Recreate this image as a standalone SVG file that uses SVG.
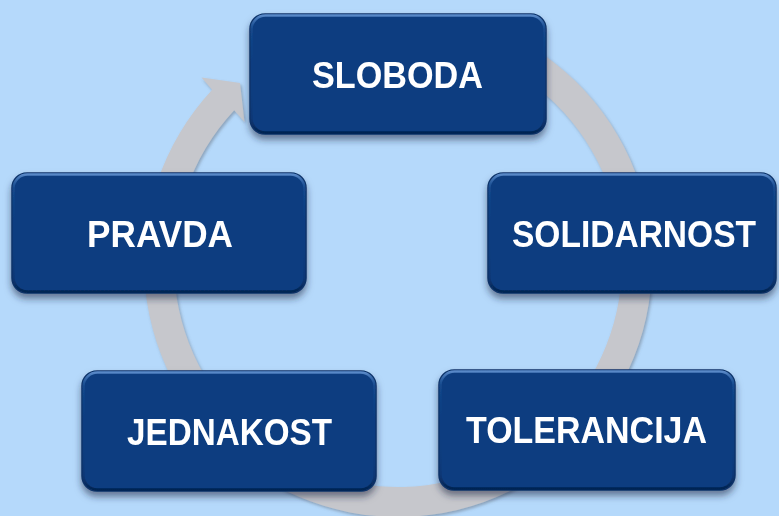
<svg xmlns="http://www.w3.org/2000/svg" width="779" height="516" viewBox="0 0 779 516">
  <style>
    .box { fill: #0A3D80; stroke: #0B3369; stroke-width: 1.5; }
    .bevel { fill: none; stroke: url(#bevelGrad); stroke-width: 2.5; }
    .label { font-family: "Liberation Sans", Arial, sans-serif; font-weight: bold; font-size: 36px; fill: #FFFFFF; text-anchor: middle; }
    .ring { fill: #C6C7CC; }
  </style>
  <defs>
    <linearGradient id="bevelGrad" x1="0" y1="0" x2="0" y2="1">
      <stop offset="0" stop-color="#5C8CCB" stop-opacity="0.95"/>
      <stop offset="0.12" stop-color="#2F63A8" stop-opacity="0.3"/>
      <stop offset="0.5" stop-color="#0A3D80" stop-opacity="0"/>
      <stop offset="0.88" stop-color="#062A5C" stop-opacity="0.3"/>
      <stop offset="1" stop-color="#04224D" stop-opacity="0.9"/>
    </linearGradient>
    <filter id="boxShadow" x="-10%" y="-10%" width="120%" height="130%">
      <feDropShadow dx="0" dy="5" stdDeviation="3.5" flood-color="#1E2C42" flood-opacity="0.55"/>
    </filter>
    <filter id="ringShadow" x="-10%" y="-10%" width="120%" height="120%">
      <feDropShadow dx="1.5" dy="2" stdDeviation="1.5" flood-color="#5A6070" flood-opacity="0.45"/>
    </filter>
  </defs>

  <rect x="0" y="0" width="779" height="516" fill="#B5D9FB"/>

  <g id="connectors">
    <path class="ring" filter="url(#ringShadow)" d="M 484.9 24.3 A 254 254 0 1 1 212.2 89.8 L 201.5 77.5 L 240 83 L 244.5 122 L 234.2 110.2 A 224 224 0 1 0 474.6 52.5 Z"/>
  </g>

  <g id="node-sloboda" filter="url(#boxShadow)">
    <rect class="box" x="250" y="14" width="296" height="120" rx="15" ry="15"/>
    <rect class="bevel" x="251.5" y="15.5" width="293" height="117" rx="14" ry="14"/>
    <text class="label" x="397.5" y="88" textLength="171" lengthAdjust="spacingAndGlyphs">SLOBODA</text>
  </g>

  <g id="node-solidarnost" filter="url(#boxShadow)">
    <rect class="box" x="488" y="173" width="288" height="120" rx="15" ry="15"/>
    <rect class="bevel" x="489.5" y="174.5" width="285" height="117" rx="14" ry="14"/>
    <text class="label" x="634" y="247" textLength="244" lengthAdjust="spacingAndGlyphs">SOLIDARNOST</text>
  </g>

  <g id="node-tolerancija" filter="url(#boxShadow)">
    <rect class="box" x="439" y="370" width="296" height="120" rx="15" ry="15"/>
    <rect class="bevel" x="440.5" y="371.5" width="293" height="117" rx="14" ry="14"/>
    <text class="label" x="586.5" y="443" textLength="241" lengthAdjust="spacingAndGlyphs">TOLERANCIJA</text>
  </g>

  <g id="node-jednakost" filter="url(#boxShadow)">
    <rect class="box" x="82" y="371" width="294" height="120" rx="15" ry="15"/>
    <rect class="bevel" x="83.5" y="372.5" width="291" height="117" rx="14" ry="14"/>
    <text class="label" x="229.5" y="445" textLength="205" lengthAdjust="spacingAndGlyphs">JEDNAKOST</text>
  </g>

  <g id="node-pravda" filter="url(#boxShadow)">
    <rect class="box" x="12" y="173" width="294" height="120" rx="15" ry="15"/>
    <rect class="bevel" x="13.5" y="174.5" width="291" height="117" rx="14" ry="14"/>
    <text class="label" x="160" y="247" textLength="146" lengthAdjust="spacingAndGlyphs">PRAVDA</text>
  </g>
</svg>
